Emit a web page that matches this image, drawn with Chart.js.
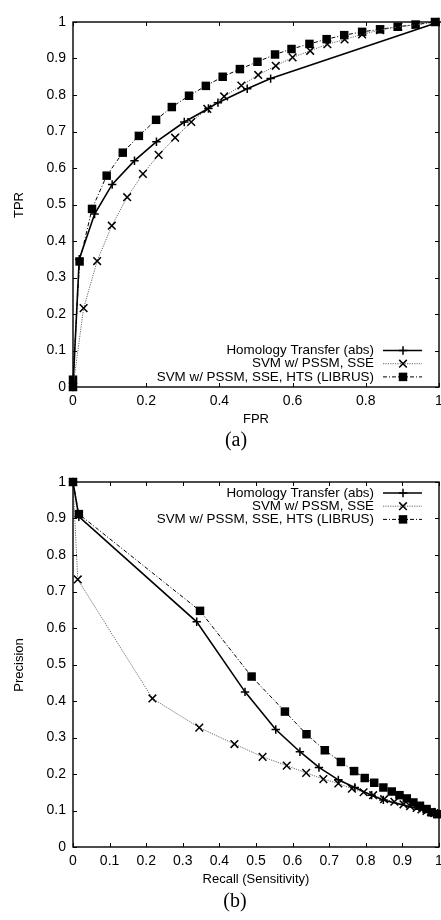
<!DOCTYPE html>
<html>
<head>
<meta charset="utf-8">
<title>ROC / Precision-Recall</title>
<script src="https://cdn.jsdelivr.net/npm/chart.js@4.4.1/dist/chart.umd.min.js"></script>
<style>
  html, body { margin: 0; padding: 0; background: #fff; overflow: hidden; }
  #page { position: relative; width: 441px; height: 920px; overflow: hidden;
          font-family: 'Liberation Sans', Arial, sans-serif; color: #000; }
  canvas { position: absolute; left: 0; }
  .lbl { position: absolute; font-size: 13px; white-space: nowrap; transform: translate(-50%, -50%); }
  .lbl.rot { transform: translate(-50%, -50%) rotate(-90deg); }
  .cap { position: absolute; font-family: 'Liberation Serif', 'Times New Roman', serif;
         font-size: 20px; white-space: nowrap; transform: translate(-50%, -50%); }
</style>
</head>
<body>
<div id="page">
  <canvas id="roc" width="462" height="412" style="top:0"></canvas>
  <canvas id="pr" width="462" height="412" style="top:460px"></canvas>

  <div class="lbl rot" style="left:18px; top:205px;">TPR</div>
  <div class="lbl" style="left:256px; top:418px;">FPR</div>
  <div class="cap" style="left:236px; top:439px;">(a)</div>

  <div class="lbl rot" style="left:18px; top:665px;">Precision</div>
  <div class="lbl" style="left:256px; top:878px;">Recall (Sensitivity)</div>
  <div class="cap" style="left:235px; top:900px;">(b)</div>
</div>

<script>
/* ============================================================
   Data
   ============================================================ */
const seriesNames = [
    'Homology Transfer (abs)',
    'SVM w/ PSSM, SSE',
    'SVM w/ PSSM, SSE, HTS (LIBRUS)',
];

// (a) ROC: FPR / TPR
const rocHomFpr = [0, 0.017, 0.059, 0.107, 0.168, 0.228, 0.304, 0.370, 0.396, 0.476, 0.540, 1.0];
const rocHomTpr = [0, 0.350, 0.474, 0.555, 0.620, 0.672, 0.726, 0.763, 0.779, 0.817, 0.845, 1.0];

const rocSvmFpr = [0, 0.029, 0.066, 0.106, 0.148, 0.191, 0.234, 0.279, 0.323, 0.367, 0.413, 0.460,
                   0.506, 0.554, 0.600, 0.648, 0.695, 0.742, 0.790, 0.839, 0.889, 0.937, 0.989];
const rocSvmTpr = [0, 0.216, 0.345, 0.442, 0.520, 0.584, 0.636, 0.683, 0.726, 0.762, 0.796, 0.826,
                   0.855, 0.880, 0.903, 0.921, 0.939, 0.952, 0.966, 0.978, 0.987, 0.992, 1.0];

const rocLibFpr = [0, 0, 0.018, 0.052, 0.092, 0.136, 0.180, 0.227, 0.270, 0.317, 0.363, 0.409,
                   0.456, 0.504, 0.552, 0.597, 0.646, 0.693, 0.741, 0.790, 0.839, 0.887, 0.936, 0.989];
const rocLibTpr = [0, 0.020, 0.344, 0.488, 0.579, 0.642, 0.688, 0.732, 0.767, 0.798, 0.825, 0.850,
                   0.871, 0.891, 0.911, 0.926, 0.940, 0.953, 0.964, 0.973, 0.980, 0.987, 0.993, 1.0];

// (b) Precision / Recall
const prHomRecall = [0, 0.016, 0.338, 0.470, 0.554, 0.620, 0.672, 0.725, 0.770, 0.816, 0.848, 1.0];
const prHomPrec   = [1.0, 0.905, 0.617, 0.425, 0.322, 0.261, 0.218, 0.184, 0.163, 0.142, 0.129, 0.090];

const prSvmRecall = [0, 0.013, 0.217, 0.345, 0.441, 0.518, 0.584, 0.637, 0.684, 0.725, 0.762, 0.794,
                     0.820, 0.850, 0.878, 0.903, 0.921, 0.939, 0.952, 0.966, 0.978, 0.987, 1.0];
const prSvmPrec   = [1.0, 0.733, 0.407, 0.327, 0.282, 0.247, 0.223, 0.203, 0.186, 0.174, 0.160, 0.150,
                     0.142, 0.131, 0.124, 0.117, 0.112, 0.107, 0.103, 0.099, 0.096, 0.093, 0.090];

const prLibRecall = [0, 0.016, 0.347, 0.488, 0.579, 0.638, 0.688, 0.732, 0.768, 0.797, 0.823, 0.848,
                     0.871, 0.892, 0.912, 0.930, 0.948, 0.966, 0.980, 0.995];
const prLibPrec   = [1.0, 0.912, 0.647, 0.467, 0.371, 0.309, 0.265, 0.233, 0.208, 0.189, 0.176, 0.163,
                     0.152, 0.142, 0.133, 0.122, 0.113, 0.104, 0.095, 0.090];

// tick positions
const rocXTicks = [0, 0.2, 0.4, 0.6, 0.8, 1];
const unitTicks = [0, 0.1, 0.2, 0.3, 0.4, 0.5, 0.6, 0.7, 0.8, 0.9, 1];

/* ============================================================
   Styles
   ============================================================ */
const FONT = "'Liberation Sans', Arial, sans-serif";

const styles = [
    { line: '#000', width: 1.6, dash: [],           marker: 'plus',  mRad: 4.2 },
    { line: '#666', width: 1.0, dash: [1.2, 1.2],   marker: 'cross', mRad: 5.4 },
    { line: '#000', width: 1.0, dash: [4, 2, 1, 2], marker: 'rect',  mRad: 6.0 },
];

function toPoints(xs, ys) {
    return xs.map((x, i) => ({ x: x, y: ys[i] }));
}

function makeDataset(idx, xs, ys) {
    const s = styles[idx];
    const pointStyle = s.marker === 'plus' ? 'cross' : (s.marker === 'cross' ? 'crossRot' : 'rect');
    return {
        label: seriesNames[idx],
        data: toPoints(xs, ys),
        showLine: true,
        borderColor: s.line,
        borderWidth: s.width,
        borderDash: s.dash,
        tension: 0,
        clip: false,
        pointStyle: pointStyle,
        pointRadius: s.mRad,
        pointHoverRadius: s.mRad,
        pointBorderColor: '#000',
        pointBackgroundColor: '#000',
        pointBorderWidth: s.marker === 'rect' ? 0 : 1.5,
    };
}

function drawMarker(ctx, kind, x, y, r) {
    ctx.save();
    ctx.setLineDash([]);
    ctx.strokeStyle = '#000';
    ctx.fillStyle = '#000';
    ctx.lineWidth = 1.5;
    ctx.beginPath();
    if (kind === 'plus') {
        ctx.moveTo(x - r, y); ctx.lineTo(x + r, y);
        ctx.moveTo(x, y - r); ctx.lineTo(x, y + r);
        ctx.stroke();
    } else if (kind === 'cross') {
        const d = r * Math.SQRT1_2;
        ctx.moveTo(x - d, y - d); ctx.lineTo(x + d, y + d);
        ctx.moveTo(x + d, y - d); ctx.lineTo(x - d, y + d);
        ctx.stroke();
    } else {
        const h = r * Math.SQRT1_2;
        ctx.fillRect(x - h, y - h, 2 * h, 2 * h);
    }
    ctx.restore();
}

/* ------------------------------------------------------------
   gnuplot-like frame: border, inward mirror ticks, key
------------------------------------------------------------ */
const gnuFrame = {
    id: 'gnuFrame',
    afterDatasetsDraw(chart, args, opts) {
        const { ctx, chartArea: a, scales } = chart;
        ctx.save();
        ctx.strokeStyle = '#000';
        ctx.setLineDash([]);

        // inward ticks on all four sides
        ctx.lineWidth = 1;
        ctx.beginPath();
        scales.x.ticks.forEach(t => {
            const px = Math.round(scales.x.getPixelForValue(t.value)) + 0.5;
            ctx.moveTo(px, a.bottom); ctx.lineTo(px, a.bottom - 4);
            ctx.moveTo(px, a.top); ctx.lineTo(px, a.top + 4);
        });
        scales.y.ticks.forEach(t => {
            const py = Math.round(scales.y.getPixelForValue(t.value)) + 0.5;
            ctx.moveTo(a.left, py); ctx.lineTo(a.left + 4, py);
            ctx.moveTo(a.right, py); ctx.lineTo(a.right - 4, py);
        });
        ctx.stroke();

        // border
        ctx.lineWidth = 1.4;
        ctx.strokeRect(a.left, a.top, a.right - a.left, a.bottom - a.top);

        // key
        ctx.font = '13.4px ' + FONT;
        ctx.textAlign = 'right';
        ctx.textBaseline = 'middle';
        seriesNames.forEach((name, i) => {
            const y = opts.anchor === 'top'
                ? a.top + 11 + i * 13.2
                : a.bottom - 36.5 + i * 13.2;
            const s = styles[i];
            ctx.fillStyle = '#000';
            ctx.fillText(name, a.right - 65, y);
            ctx.beginPath();
            ctx.setLineDash(s.dash);
            ctx.lineWidth = s.width;
            ctx.strokeStyle = s.line;
            ctx.moveTo(a.right - 56, y);
            ctx.lineTo(a.right - 17, y);
            ctx.stroke();
            ctx.setLineDash([]);
            drawMarker(ctx, s.marker, a.right - 36, y, s.mRad);
        });
        ctx.restore();
    },
};

function fmtTick(v) {
    return String(Math.round(v * 10) / 10);
}

function buildChart(canvasId, datasets, xTicks, keyAnchor) {
    const tickFont = { family: FONT, size: 14 };
    return new Chart(document.getElementById(canvasId), {
        type: 'scatter',
        data: { datasets: datasets },
        options: {
            responsive: false,
            animation: false,
            events: [],
            layout: { padding: { top: 22, right: 23, left: 0, bottom: 0 } },
            plugins: {
                legend: { display: false },
                tooltip: { enabled: false },
                gnuFrame: { anchor: keyAnchor },
            },
            scales: {
                x: {
                    type: 'linear', min: 0, max: 1,
                    grid: { display: false, drawTicks: false },
                    border: { display: false },
                    afterBuildTicks: s => { s.ticks = xTicks.map(v => ({ value: v })); },
                    afterFit: s => { s.height = 25; },
                    ticks: { color: '#000', font: tickFont, padding: 6, maxRotation: 0,
                             autoSkip: false, callback: fmtTick },
                },
                y: {
                    type: 'linear', min: 0, max: 1,
                    grid: { display: false, drawTicks: false },
                    border: { display: false },
                    afterBuildTicks: s => { s.ticks = unitTicks.map(v => ({ value: v })); },
                    afterFit: s => { s.width = 73; },
                    ticks: { color: '#000', font: tickFont, padding: 7,
                             autoSkip: false, callback: fmtTick },
                },
            },
        },
        plugins: [gnuFrame],
    });
}

buildChart('roc', [
    makeDataset(0, rocHomFpr, rocHomTpr),
    makeDataset(1, rocSvmFpr, rocSvmTpr),
    makeDataset(2, rocLibFpr, rocLibTpr),
], rocXTicks, 'bottom');

buildChart('pr', [
    makeDataset(0, prHomRecall, prHomPrec),
    makeDataset(1, prSvmRecall, prSvmPrec),
    makeDataset(2, prLibRecall, prLibPrec),
], unitTicks, 'top');
</script>
</body>
</html>
